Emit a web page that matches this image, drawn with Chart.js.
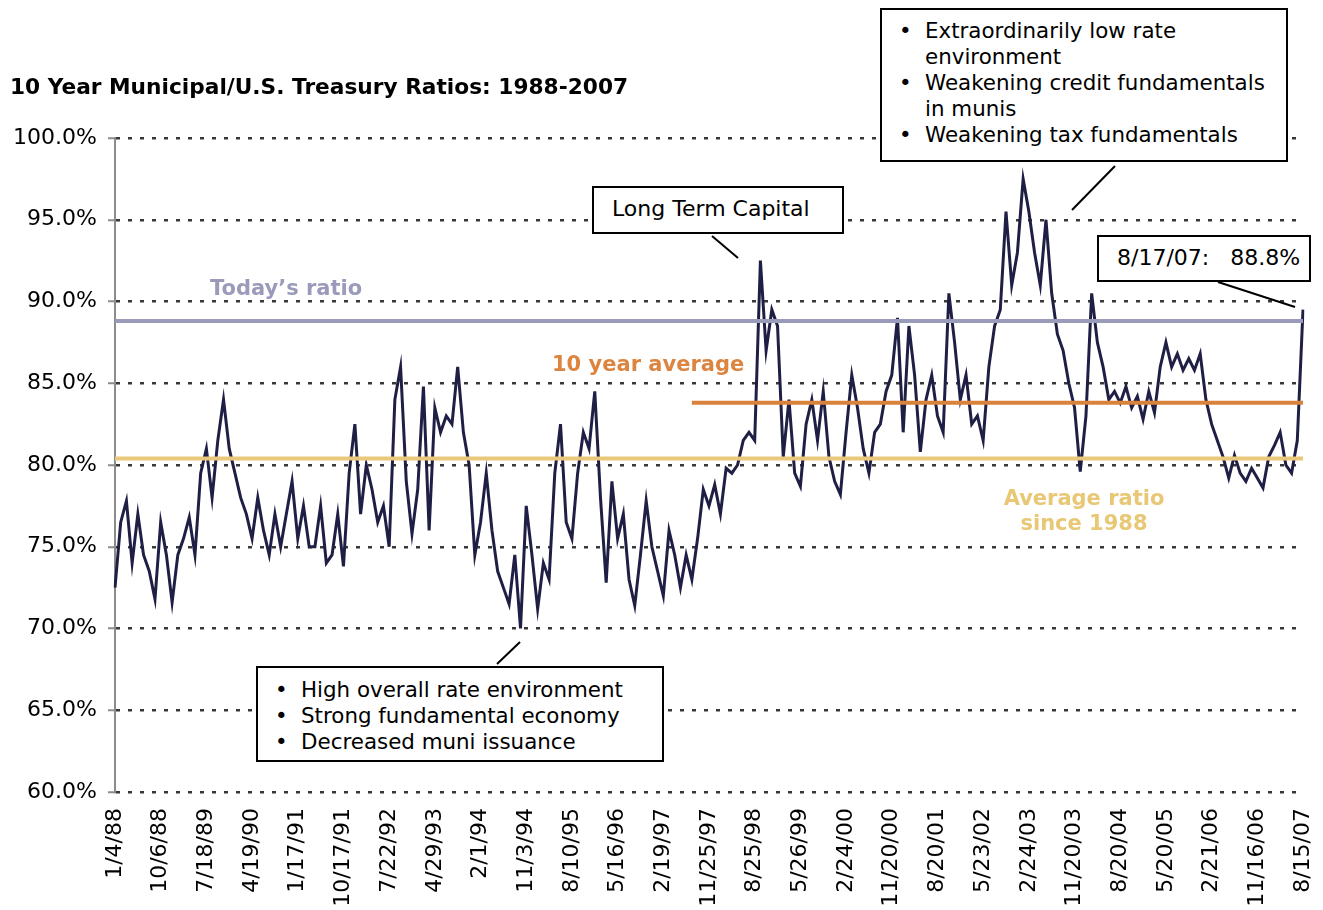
<!DOCTYPE html>
<html>
<head>
<meta charset="utf-8">
<script src="https://cdn.jsdelivr.net/npm/chart.js@4/dist/chart.umd.min.js"></script>
<style>
    body { margin: 0; background: #fff; }
    #wrap { position: relative; width: 1323px; height: 910px; font-family: "DejaVu Sans", Verdana, sans-serif; }
    #chart { position: absolute; left: 0; top: 0; }
    .txt { position: absolute; white-space: nowrap; line-height: 24px; }
    .title { left: 10px; top: 75px; font-size: 21.7px; font-weight: bold; color: #000; }
    .ref { font-size: 21px; font-weight: bold; }
    .box { position: absolute; box-sizing: border-box; border: 2px solid #000; background: #fff;
           font-size: 22px; line-height: 26px; color: #000; white-space: nowrap; }
    .box ul { list-style: none; margin: 0; padding: 0; font-size: 21.4px; }
    .box li { position: relative; padding-left: 43px; }
    .box li::before { content: '\2022'; position: absolute; left: 17px; }
</style>
</head>
<body>
<div id="wrap">
    <canvas id="chart" width="1323" height="910"></canvas>

    <div class="txt title">10 Year Municipal/U.S. Treasury Ratios: 1988-2007</div>

    <div class="txt ref" style="left:210px; top:276px; color:#9a9abb;">Today’s ratio</div>
    <div class="txt ref" style="left:552px; top:352px; color:#dc8540;">10 year average</div>
    <div class="txt ref" style="left:984px; top:486px; width:200px; text-align:center; line-height:25px; color:#e8c775;">Average ratio<br>since 1988</div>

    <div class="box" style="left:880px; top:8px; width:408px; height:154px; padding-top:8px;">
        <ul>
            <li>Extraordinarily low rate<br>environment</li>
            <li>Weakening credit fundamentals<br>in munis</li>
            <li>Weakening tax fundamentals</li>
        </ul>
    </div>

    <div class="box" style="left:592px; top:186px; width:252px; height:48px; padding:8px 0 0 18px;">Long Term Capital</div>

    <div class="box" style="left:1097px; top:235px; width:214px; height:47px; padding:8px 0 0 18px; white-space:pre;">8/17/07:   88.8%</div>

    <div class="box" style="left:256px; top:666px; width:408px; height:96px; padding-top:9px;">
        <ul>
            <li>High overall rate environment</li>
            <li>Strong fundamental economy</li>
            <li>Decreased muni issuance</li>
        </ul>
    </div>
</div>

<script>
// x axis labels, one every 8 points (about every 39 weeks)
const tickLabels = ['1/4/88', '10/6/88', '7/18/89', '4/19/90', '1/17/91', '10/17/91', '7/22/92',
    '4/29/93', '2/1/94', '11/3/94', '8/10/95', '5/16/96', '2/19/97', '11/25/97', '8/25/98',
    '5/26/99', '2/24/00', '11/20/00', '8/20/01', '5/23/02', '2/24/03', '11/20/03', '8/20/04',
    '5/20/05', '2/21/06', '11/16/06', '8/15/07'];
const pointsPerLabel = 8;

// muni / treasury ratio (%)
const ratioValues = [
    72.5, 76.5, 77.8, 74.0, 77.0, 74.5, 73.5, 71.8, 76.5, 74.5, 71.6, 74.5, 75.5, 76.8, 74.5, 79.5,
    81.0, 78.0, 81.5, 84.0, 81.0, 79.5, 78.0, 77.0, 75.5, 78.0, 76.0, 74.5, 77.0, 75.0, 77.0, 79.0,
    75.5, 77.5, 75.0, 75.0, 77.5, 74.0, 74.5, 77.0, 73.8, 79.5, 82.5, 77.0, 80.0, 78.5, 76.5, 77.5,
    75.0, 84.0, 86.0, 79.0, 75.8, 78.5, 84.8, 76.0, 83.5, 82.0, 83.0, 82.5, 86.0, 82.0, 80.0, 74.5,
    76.5, 79.5, 76.0, 73.5, 72.5, 71.5, 74.5, 70.0, 77.5, 74.5, 71.2, 74.0, 73.0, 79.5, 82.5, 76.5,
    75.5, 79.5, 82.0, 81.0, 84.5, 78.0, 72.8, 79.0, 75.5, 77.0, 73.0, 71.4, 74.5, 77.8, 75.0, 73.5,
    72.0, 76.0, 74.5, 72.5, 74.5, 73.0, 75.5, 78.5, 77.5, 78.8, 77.0, 79.8, 79.5, 80.0, 81.5, 82.0,
    81.5, 92.5, 87.0, 89.5, 88.5, 80.5, 84.0, 79.5, 78.7, 82.5, 84.0, 81.5, 84.5, 80.5, 79.0, 78.2,
    82.0, 85.5, 83.5, 81.0, 79.5, 82.0, 82.5, 84.5, 85.5, 89.0, 82.0, 88.5, 85.5, 80.8, 84.0, 85.5,
    83.0, 82.0, 90.5, 87.5, 84.0, 85.5, 82.5, 83.0, 81.5, 86.0, 88.5, 89.5, 95.5, 91.0, 93.0, 97.5,
    95.5, 93.0, 91.0, 95.0, 90.5, 88.0, 87.0, 85.0, 83.5, 79.6, 83.0, 90.5, 87.5, 86.0, 84.0, 84.5,
    83.8, 84.8, 83.5, 84.2, 82.8, 84.5, 83.2, 86.0, 87.5, 86.0, 86.8, 85.8, 86.5, 85.8, 86.8, 84.0,
    82.5, 81.5, 80.5, 79.2, 80.6, 79.5, 79.0, 79.8, 79.2, 78.6, 80.5, 81.2, 82.0, 80.0, 79.5, 81.5,
    89.5
];

// reference lines: today's ratio, 10 year average, average since 1988
const refValues = [88.8, 83.8, 80.4];
const refColors = ['#9a9abb', '#d9823b', '#e9c77b'];
const refStartIndex = [0, 101, 0];

// callout leader lines [x1, y1, x2, y2]
const leaders = [
    [712, 236, 738, 258],
    [1115, 166, 1072, 210],
    [1218, 282, 1295, 307],
    [520, 642, 497, 664]
];

const refLines = {
    id: 'refLines',
    afterDatasetsDraw(chart) {
        const { ctx, chartArea, scales: { x, y } } = chart;
        ctx.save();
        ctx.lineWidth = 4;
        refValues.forEach((v, i) => {
            const py = y.getPixelForValue(v);
            ctx.strokeStyle = refColors[i];
            ctx.beginPath();
            ctx.moveTo(refStartIndex[i] === 0 ? chartArea.left : x.getPixelForValue(refStartIndex[i]), py);
            ctx.lineTo(chartArea.right, py);
            ctx.stroke();
        });
        ctx.lineWidth = 2;
        ctx.strokeStyle = '#000';
        leaders.forEach(l => {
            ctx.beginPath();
            ctx.moveTo(l[0], l[1]);
            ctx.lineTo(l[2], l[3]);
            ctx.stroke();
        });
        ctx.restore();
    }
};

const font = { family: '"DejaVu Sans", Verdana, sans-serif', size: 22 };

new Chart(document.getElementById('chart'), {
    type: 'line',
    data: {
        labels: ratioValues.map((v, i) => i),
        datasets: [{
            data: ratioValues,
            borderColor: '#1f1f46',
            borderWidth: 3,
            pointRadius: 0,
            tension: 0
        }]
    },
    options: {
        responsive: false,
        animation: false,
        layout: { padding: { top: 138, right: 20 } },
        plugins: { legend: { display: false }, tooltip: { enabled: false } },
        scales: {
            x: {
                grid: { display: false },
                border: { display: false },
                ticks: {
                    autoSkip: false,
                    maxRotation: 90,
                    minRotation: 90,
                    padding: 8,
                    color: '#000',
                    font: font,
                    callback: (v, i) => i % pointsPerLabel === 0 ? tickLabels[i / pointsPerLabel] : null
                },
                afterFit: s => { s.height = 118; s.paddingLeft = 0; s.paddingRight = 0; }
            },
            y: {
                min: 60,
                max: 100,
                grid: {
                    color: '#383838',
                    lineWidth: 2.5,
                    tickLength: 7,
                    tickColor: '#8c8c8c',
                    tickWidth: 2,
                    tickBorderDash: []
                },
                border: { display: true, color: '#8c8c8c', width: 2, dash: [4, 8] },
                ticks: {
                    stepSize: 5,
                    padding: 11,
                    color: '#000',
                    font: font,
                    callback: v => v.toFixed(1) + '%'
                },
                afterFit: s => { s.width = 115; }
            }
        }
    },
    plugins: [refLines]
});
</script>
</body>
</html>
